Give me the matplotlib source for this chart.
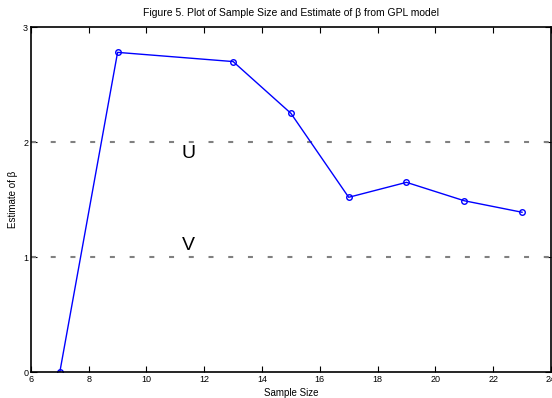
import matplotlib
matplotlib.use("Agg")
from matplotlib import pyplot as plt

sample_size = [7, 9, 13, 15, 17, 19, 21, 23]
beta_est = [0.0, 2.78, 2.70, 2.25, 1.52, 1.65, 1.49, 1.39]
ref_levels = [2, 1]
ref_labels = ["U", "V"]

plt.rcParams['font.family'] = ['Liberation Sans', 'DejaVu Sans']
plt.rcParams['lines.scale_dashes'] = False

fig = plt.figure(figsize=(5.52, 3.98), dpi=100)
ax = fig.add_axes([0.056, 0.065, 0.942, 0.867])

for lvl in ref_levels:
    ax.axhline(lvl, color="#808080", linestyle=(0, (3.6, 10.6)), linewidth=1.5)

ax.plot(sample_size, beta_est, color="#0000ff", linewidth=1.0,
        marker="o", markersize=4, markerfacecolor="none", markeredgewidth=1.0)

ax.text(11.45, 1.90, ref_labels[0], fontsize=14, ha="center", va="center")
ax.text(11.45, 1.10, ref_labels[1], fontsize=14, ha="center", va="center")

ax.set_xlim(6, 24)
ax.set_ylim(0, 3)
ax.set_xticks(range(6, 25, 2))
ax.set_yticks([0, 1, 2, 3])
ax.tick_params(direction="in", top=True, right=True, labelsize=6.5, length=4, pad=2)
for s in ax.spines.values():
    s.set_linewidth(1.2)

ax.set_title("Figure 5. Plot of Sample Size and Estimate of \u03b2 from GPL model", fontsize=7.5, pad=8)
ax.set_xlabel("Sample Size", fontsize=7, labelpad=3)
ax.set_ylabel("Estimate of \u03b2", fontsize=7, labelpad=4)

fig.savefig("out.png", dpi=100)
